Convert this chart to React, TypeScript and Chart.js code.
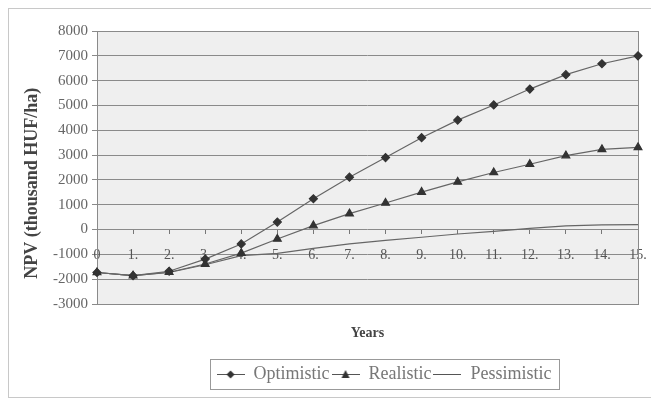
import React, { useEffect, useRef } from "react";
import { Chart, registerables } from "chart.js";

Chart.register(...registerables);

const years = ["0", "1.", "2.", "3.", "4.", "5.", "6.", "7.", "8.", "9.", "10.", "11.", "12.", "13.", "14.", "15."];
const optimistic = [-1730, -1860, -1680, -1190, -580, 300, 1240, 2110, 2900, 3700, 4410, 5020, 5660, 6240, 6680, 7000];
const realistic = [-1730, -1860, -1720, -1390, -950, -380, 160, 640, 1070, 1510, 1920, 2300, 2630, 2980, 3230, 3310];
const pessimistic = [-1730, -1860, -1730, -1420, -1050, -960, -760, -580, -440, -310, -180, -70, 50, 150, 190, 200];
const seriesNames = ["Optimistic", "Realistic", "Pessimistic"];
const yTitle = "NPV (thousand HUF/ha)";
const xTitle = "Years";
const yMin = -3000;
const yMax = 8000;
const yStep = 1000;

const SERIF = "'Liberation Serif', 'Times New Roman', serif";

function makeLegendIcon(marker: "diamond" | "triangle" | "none"): HTMLCanvasElement {
  const c = document.createElement("canvas");
  c.width = 28;
  c.height = 12;
  const ctx = c.getContext("2d")!;
  ctx.strokeStyle = "#555";
  ctx.lineWidth = 1;
  ctx.beginPath();
  ctx.moveTo(0, 6.5);
  ctx.lineTo(28, 6.5);
  ctx.stroke();
  ctx.fillStyle = "#333";
  if (marker === "diamond") {
    ctx.beginPath();
    ctx.moveTo(14, 2.5);
    ctx.lineTo(18, 6.5);
    ctx.lineTo(14, 10.5);
    ctx.lineTo(10, 6.5);
    ctx.closePath();
    ctx.fill();
  } else if (marker === "triangle") {
    ctx.beginPath();
    ctx.moveTo(14, 2);
    ctx.lineTo(18, 10);
    ctx.lineTo(10, 10);
    ctx.closePath();
    ctx.fill();
  }
  return c;
}

const plotBg = {
  id: "plotBg",
  beforeDraw(chart: any) {
    const { ctx, chartArea } = chart;
    ctx.save();
    ctx.fillStyle = "#efefef";
    ctx.fillRect(chartArea.left, chartArea.top, chartArea.right - chartArea.left, chartArea.bottom - chartArea.top);
    ctx.restore();
  },
  beforeDatasetsDraw(chart: any) {
    const { ctx, chartArea } = chart;
    ctx.save();
    ctx.strokeStyle = "#8a8a8a";
    ctx.lineWidth = 1;
    ctx.strokeRect(Math.round(chartArea.left) + 0.5, Math.round(chartArea.top) + 0.5, Math.round(chartArea.right - chartArea.left), Math.round(chartArea.bottom - chartArea.top));
    ctx.restore();
  },
};

const legendShift = {
  id: "legendShift",
  afterLayout(chart: any) {
    const lg = chart.legend;
    if (lg) {
      const mid = (lg.left + lg.right) / 2;
      const d = 375 - mid;
      lg.left += d;
      lg.right += d;
    }
  },
};

const legendFrame = {
  id: "legendFrame",
  afterDraw(chart: any) {
    const lg = chart.legend;
    if (!lg || !lg.legendHitBoxes || !lg.legendHitBoxes.length) return;
    const hb = lg.legendHitBoxes;
    const left = hb[0].left - 7;
    const last = hb[hb.length - 1];
    const right = last.left + last.width + 7;
    const cy = hb[0].top + hb[0].height / 2;
    const { ctx } = chart;
    ctx.save();
    ctx.strokeStyle = "#999";
    ctx.lineWidth = 1;
    ctx.strokeRect(Math.round(left) + 0.5, Math.round(cy - 15) + 0.5, Math.round(right - left), 30);
    ctx.restore();
  },
};

export default function App() {
  const ref = useRef<HTMLCanvasElement | null>(null);

  useEffect(() => {
    if (!ref.current) return;
    const icons = [makeLegendIcon("diamond"), makeLegendIcon("triangle"), makeLegendIcon("none")];
    const chart = new Chart(ref.current, {
      type: "line",
      data: {
        labels: years,
        datasets: [
          {
            label: seriesNames[0],
            data: optimistic,
            borderColor: "#666",
            borderWidth: 1.2,
            pointStyle: "rectRot",
            pointRadius: 4,
            pointBackgroundColor: "#333",
            pointBorderColor: "#333",
            tension: 0,
          },
          {
            label: seriesNames[1],
            data: realistic,
            borderColor: "#666",
            borderWidth: 1.2,
            pointStyle: "triangle",
            pointRadius: 4.5,
            pointBackgroundColor: "#333",
            pointBorderColor: "#333",
            tension: 0,
          },
          {
            label: seriesNames[2],
            data: pessimistic,
            borderColor: "#666",
            borderWidth: 1.2,
            pointRadius: 0,
            tension: 0,
          },
        ],
      },
      options: {
        animation: false,
        responsive: true,
        maintainAspectRatio: false,
        layout: { padding: { left: 12, right: 13, top: 22, bottom: 4 } },
        scales: {
          x: {
            type: "category",
            position: "bottom",
            grid: { display: false },
            border: { display: false },
            ticks: { display: false },
            title: {
              display: true,
              text: xTitle,
              color: "#444",
              font: { family: SERIF, size: 14, weight: "bold" },
              padding: { top: 12.6, bottom: 21.6 },
            },
          },
          x2: {
            type: "category",
            axis: "x",
            position: { y: 0 },
            afterFit: (s: any) => {
              s.paddingLeft = 0;
              s.paddingRight = 0;
            },
            grid: { display: true, drawOnChartArea: false, drawTicks: true, tickLength: 4, color: "#777" },
            border: { display: false },
            ticks: {
              color: "#555",
              padding: 13,
              autoSkip: false,
              maxRotation: 0,
              font: { family: SERIF, size: 14 },
            },
          },
          y: {
            type: "linear",
            min: yMin,
            max: yMax,
            afterFit: (s: any) => {
              s.width = 76;
            },
            ticks: {
              stepSize: yStep,
              color: "#666",
              padding: 4,
              font: { family: SERIF, size: 15 },
              callback: (v: any) => String(v),
            },
            grid: { color: "#8a8a8a", lineWidth: 1, tickLength: 5, drawTicks: true },
            border: { display: false },
            title: {
              display: true,
              text: yTitle + "\u00A0".repeat(7),
              color: "#444",
              font: { family: SERIF, size: 18, weight: "bold" },
              padding: { top: 1, bottom: 8 },
            },
          },
        },
        plugins: {
          tooltip: { enabled: false },
          legend: {
            position: "bottom",
            fullSize: false,
            labels: {
              usePointStyle: true,
              pointStyleWidth: 28,
              padding: 2,
              color: "#777",
              font: { family: SERIF, size: 18 },
              generateLabels: (c: any) =>
                c.data.datasets.map((ds: any, i: number) => ({
                  text: ds.label,
                  pointStyle: icons[i],
                  fillStyle: "transparent",
                  strokeStyle: "transparent",
                  lineWidth: 0,
                  hidden: false,
                  datasetIndex: i,
                  fontColor: "#777",
                })),
            },
          },
        },
      },
      plugins: [plotBg, legendShift, legendFrame],
    } as any);
    return () => chart.destroy();
  }, []);

  return (
    <div
      style={{
        position: "absolute",
        left: 8,
        top: 8,
        width: 643,
        height: 390,
        borderTop: "1px solid #c8c8c8",
        borderLeft: "1px solid #c8c8c8",
        borderBottom: "1px solid #c8c8c8",
        boxSizing: "border-box",
        background: "#fff",
        overflow: "hidden",
      }}
    >
      <div style={{ position: "relative", width: "100%", height: "100%" }}>
        <canvas ref={ref} style={{ display: "block" }} />
      </div>
    </div>
  );
}
